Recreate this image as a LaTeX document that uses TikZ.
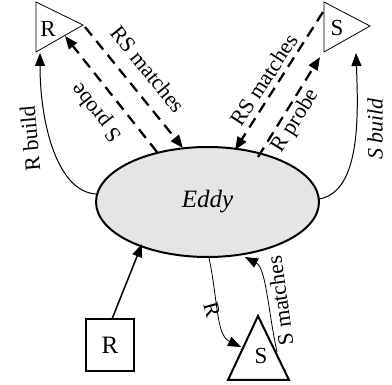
\documentclass[tikz,border=0pt]{standalone}
\usepackage{fontspec}
\setmainfont{Liberation Serif}
\usetikzlibrary{arrows.meta,shapes.geometric}
\begin{document}
\begin{tikzpicture}[x=1pt,y=-1pt,
  lab/.style={font=\fontsize{22}{25}\selectfont, inner sep=0pt},
  big/.style={font=\fontsize{23}{27}\selectfont, inner sep=0pt},
  thinline/.style={line width=0.8pt},
  thickline/.style={line width=2pt},
  dashline/.style={line width=2.3pt, dash pattern=on 11pt off 7pt, -{Triangle[length=13pt,width=10pt]}},
  solidarrow/.style={line width=1.5pt,-{Triangle[length=13pt,width=10pt]}},
  thinarrow/.style={line width=1pt,-{Triangle[length=13pt,width=10pt]}},
]
\useasboundingbox (0,0) rectangle (392,385);
% Eddy
\node[ellipse, draw, line width=2pt, fill={rgb,255:red,229;green,229;blue,231},
      minimum width=223pt, minimum height=110pt, inner sep=0pt,
      font=\fontsize{25}{30}\selectfont\itshape] (eddy) at (207.5,202) {Eddy};
% top-left triangle R
\coordinate (rA) at (36,2);
\coordinate (rB) at (83,25);
\coordinate (rC) at (36,52);
\draw[thinline] (rA) -- (rB) -- (rC) -- cycle;
\node[big] (rlab) at (48,29) {R};
% top-right triangle S
\coordinate (sA) at (324,2);
\coordinate (sB) at (370,26);
\coordinate (sC) at (324,52);
\draw[thinline] (sA) -- (sB) -- (sC) -- cycle;
\node[big] (slab) at (337,28) {S};
% bottom square R
\node[draw, thickline, minimum width=48pt, minimum height=52pt, inner sep=0pt,
      font=\fontsize{25}{30}\selectfont] (rsq) at (110,345) {R};
% bottom triangle S
\coordinate (tA) at (258,316);
\coordinate (tB) at (289,380);
\coordinate (tC) at (228,380);
\draw[thickline, line join=miter] (tA) -- (tB) -- (tC) -- cycle;
\node[big] (tlab) at (261,356) {S};
% connector end points
\coordinate (eL) at (97,194);
\coordinate (rBuildTip) at (40,53);
\coordinate (eR) at (319,199);
\coordinate (sBuildTip) at (356,53);
\coordinate (rsStartL) at (85,27);
\coordinate (eTopL) at (183,148);
\coordinate (eProbeL) at (157,152);
\coordinate (sProbeTip) at (65,36);
\coordinate (rsStartR) at (323,12);
\coordinate (eTopR) at (235,150);
\coordinate (eProbeR) at (258,157);
\coordinate (rProbeTip) at (320,57);
\coordinate (sqTop) at (112,319);
\coordinate (eBotL) at (142,244);
\coordinate (eBotR) at (209,258);
\coordinate (tLeft) at (241,347);
\coordinate (tRight) at (277,352);
\coordinate (eBotS) at (245,257);
% connectors
\draw[thinarrow] (eL) .. controls (58,193) and (40,125) .. (rBuildTip);
\draw[thinarrow] (eR) .. controls (362,192) and (358,110) .. (sBuildTip);
\draw[dashline] (rsStartL) -- (eTopL);
\draw[dashline] (eProbeL) -- (sProbeTip);
\draw[dashline] (rsStartR) -- (eTopR);
\draw[dashline] (eProbeR) -- (rProbeTip);
\draw[solidarrow] (sqTop) -- (eBotL);
\draw[thinline,-{Triangle[length=13pt,width=10pt]}] (eBotR) .. controls (218,300) and (216,335) .. (tLeft);
\draw[thinline,-{Triangle[length=13pt,width=10pt]}] (tRight) .. controls (268,310) and (266,268) .. (eBotS);
% labels
\node[lab, rotate=95] (lRbuild) at (30,139) {R build};
\node[lab, rotate=90, font=\fontsize{22}{25}\selectfont\itshape] (lSbuild) at (375,129) {S build};
\node[lab, rotate=-51] (lRSmL) at (148,69) {RS matches};
\node[lab, rotate=128] (lSprobe) at (97,112) {S probe};
\node[lab, rotate=57] (lRSmR) at (264,80) {RS matches};
\node[lab, rotate=58] (lRprobe) at (296,121) {R probe};
\node[lab, rotate=-75] (lR) at (212,310) {R};
\node[lab, rotate=98] (lSm) at (280,301) {S matches};
\end{tikzpicture}
\end{document}
